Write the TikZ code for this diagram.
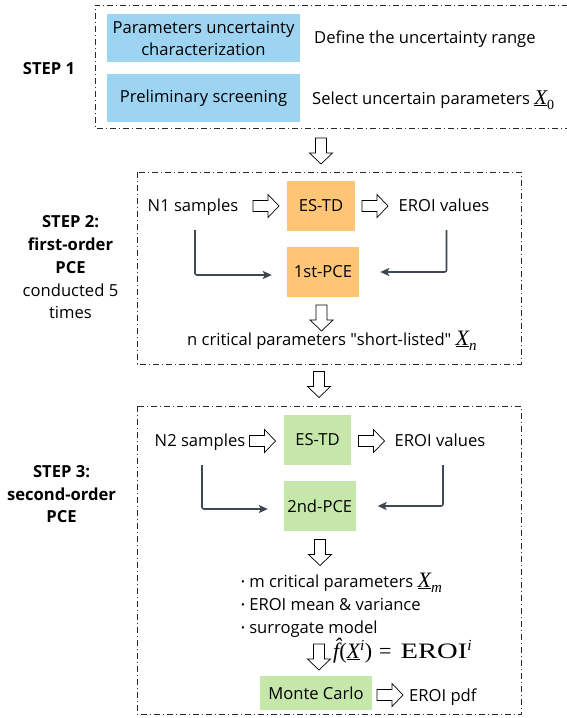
\documentclass[tikz,border=0pt]{standalone}
\usepackage{graphicx}
\usepackage{fontspec}
\setmainfont{Open Sans}
\newfontfamily\osans{Open Sans}
\newfontfamily\tnr{Liberation Serif}
\usetikzlibrary{arrows.meta}
\definecolor{bluebox}{HTML}{9DD4F2}
\definecolor{orangebox}{HTML}{FFC576}
\definecolor{greenbox}{HTML}{C5E8AA}
\definecolor{connc}{HTML}{404754}
\definecolor{framec}{HTML}{2A2A2A}
\newcommand\ulX{\underline{\itshape X}}
\newcommand\smallbul{\raisebox{2pt}{\fontsize{10}{10}\selectfont\textbullet}}
\newcommand\sq{{\osans"}}
\begin{document}
\begin{tikzpicture}[x=1pt,y=-1pt,
  every node/.style={font=\fontsize{16.6}{22}\selectfont, inner sep=0pt},
  frame/.style={draw=framec, line width=0.8pt, dash pattern=on 6pt off 3pt on 1pt off 3pt},
  colbox/.style={fill=#1, align=center},
  conn/.style={draw=connc, line width=1.6pt, rounded corners=2pt, -{Stealth[length=9pt,width=8pt,inset=2pt]}},
  blockline/.style={draw=black, fill=white, line width=0.7pt, line join=miter},
  rarrow/.pic={\path[blockline] (-13,-5.5) -- (2,-5.5) -- (2,-11.5) -- (13,0) -- (2,11.5) -- (2,5.5) -- (-13,5.5) -- cycle;}
]
\useasboundingbox (0,0) rectangle (567,718);

% frames
\draw[frame] (568,5) -- (95,5) -- (95,128) -- (568,128);
\draw[frame] (137,172) rectangle (521,364);
\draw[frame] (137,406) rectangle (521,714.5);

% step labels
\node[anchor=base, font=\fontsize{16.6}{22}\selectfont\bfseries] (s1) at (49,74) {STEP 1};
\node[align=center, font=\fontsize{16.6}{22.75}\selectfont] (s2) at (70.5,267.5)
  {\textbf{STEP 2:}\\\textbf{first-order}\\\textbf{PCE}\\conducted 5\\times};
\node[align=center, font=\fontsize{16.6}{22.5}\selectfont\bfseries] (s3) at (61.5,494.5)
  {STEP 3:\\second-order\\PCE};

% step 1
\node[colbox=bluebox, minimum width=193pt, minimum height=48pt] (b1) at (203.5,38) {Parameters uncertainty\\characterization};
\node[colbox=bluebox, minimum width=193pt, minimum height=48pt] (b2) at (203.5,98) {Preliminary screening};
\node[anchor=base west] (d1) at (314,43.3) {Define the uncertainty range};
\node[anchor=base west] (d2) at (312,104) {Select uncertain parameters {\tnr\fontsize{21}{21}\selectfont\ulX\raisebox{-5pt}{\fontsize{14}{14}\selectfont 0}}};

\pic at (321,151) [rotate=-90] {rarrow};

% step 2
\node[anchor=base] (n1) at (193,211.7) {N1 samples};
\node[colbox=orangebox, minimum width=68pt, minimum height=50pt] (es1) at (321,206) {ES-TD};
\node[anchor=base] (ev1) at (444,211.7) {EROI values};
\node[colbox=orangebox, minimum width=72pt, minimum height=50pt] (pce1) at (323,272) {1st-PCE};
\pic at (266,206) {rarrow};
\pic at (375,206) {rarrow};
\coordinate (c1) at (195,230);
\coordinate (c2) at (446.5,230);
\draw[conn] (c1) |- ([xshift=-15pt,yshift=-3pt]pce1.west);
\draw[conn] (c2) |- ([xshift=21pt]pce1.east);
\pic at (321.5,318) [rotate=-90] {rarrow};
\node[anchor=base west] (nc) at (187,345) {n critical parameters \sq short-listed\sq\ {\tnr\fontsize{22}{22}\selectfont\ulX\raisebox{-5pt}{\fontsize{15}{15}\selectfont\itshape n}}};

\pic at (319,384.5) [rotate=-90] {rarrow};

% step 3
\node[anchor=base] (n2) at (200,446.7) {N2 samples};
\node[colbox=greenbox, minimum width=67.7pt, minimum height=50pt] (es2) at (317.5,440) {ES-TD};
\node[anchor=base] (ev2) at (440,446.7) {EROI values};
\node[colbox=greenbox, minimum width=72pt, minimum height=50pt] (pce2) at (319.75,506) {2nd-PCE};
\pic at (262.5,441) {rarrow};
\pic at (371.5,441) {rarrow};
\coordinate (c3) at (202,465);
\coordinate (c4) at (443,465);
\draw[conn] (c3) |- ([xshift=-15.7pt,yshift=-3pt]pce2.west);
\draw[conn] (c4) |- ([xshift=21.7pt]pce2.east);
\pic at (320,552.5) [rotate=-90] {rarrow};

\node[anchor=base west] (l1) at (241,587) {\smallbul\ m critical parameters {\tnr\fontsize{22}{22}\selectfont\ulX\raisebox{-5pt}{\fontsize{15}{15}\selectfont\itshape m}}};
\node[anchor=base west] (l2) at (241,610) {\smallbul\ EROI mean \& variance};
\node[anchor=base west] (l3) at (241,633) {\smallbul\ surrogate model};

\pic at (319,657) [rotate=-90] {rarrow};
\node[anchor=base west] (fx) at (333,658) {\tnr\fontsize{22}{22}\selectfont{\itshape\^f}(\ulX\textsuperscript{\itshape i})\hspace{7pt}=\hspace{9pt}\scalebox{1.3}[1]{EROI}\textsuperscript{\itshape i}};

\node[colbox=greenbox, minimum width=112pt, minimum height=34pt] (mc) at (316,693) {Monte Carlo};
\pic at (390,695) {rarrow};
\node[anchor=base west] (pdf) at (409,701.7) {EROI pdf};
\end{tikzpicture}
\end{document}
